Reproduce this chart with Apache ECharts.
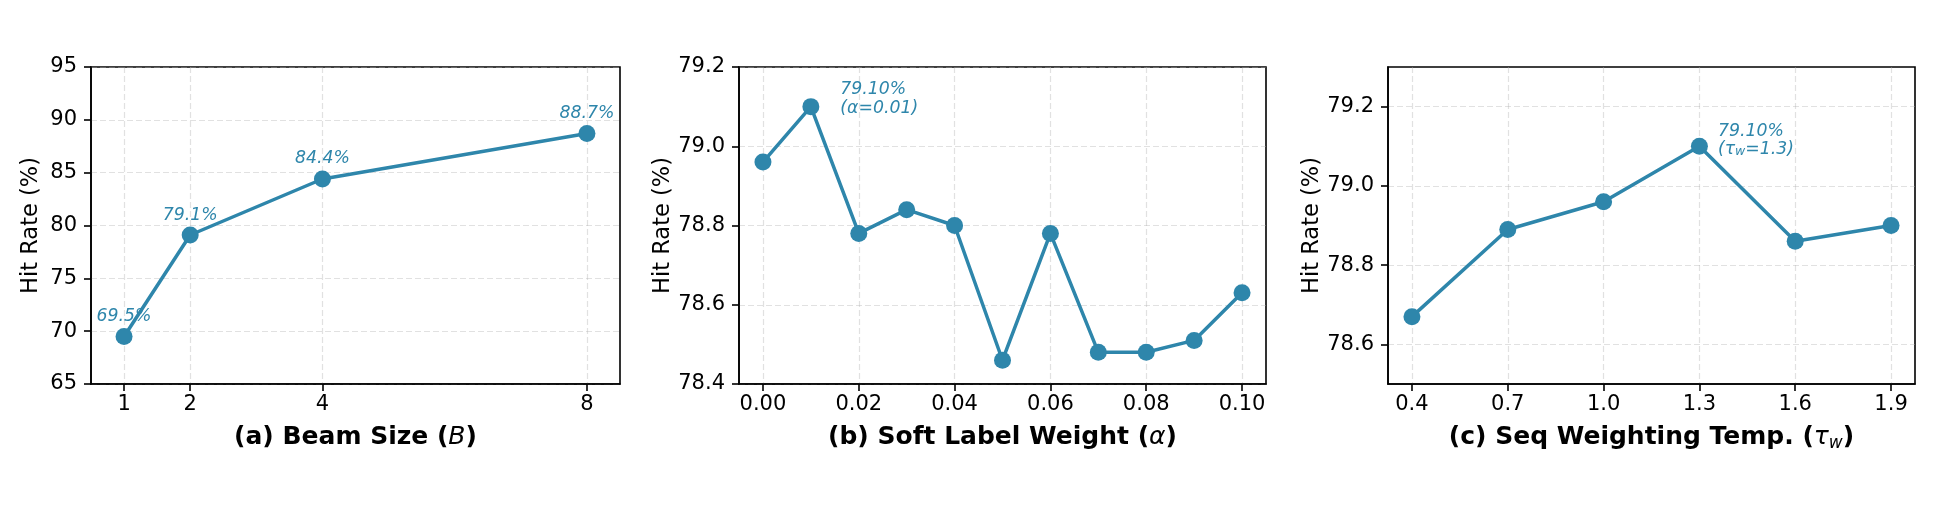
<!DOCTYPE html>
<html>
<head>
<meta charset="utf-8">
<script src="https://cdn.jsdelivr.net/npm/echarts@6/dist/echarts.min.js"></script>
<style>
  html, body { margin: 0; padding: 0; background: #fff; }
  #chart { width: 1936px; height: 528px; }
</style>
</head>
<body>
<div id="chart"></div>
<script>
(function() {
  var blue = '#2e86ab';
  var font = 'DejaVu Sans';

  // (a) beam size
  var beamSizes = [1, 2, 4, 8];
  var beamHit = [69.5, 79.1, 84.4, 88.7];
  var beamTicks = [1, 2, 4, 8];
  var beamYTicks = [65, 70, 75, 80, 85, 90, 95];

  // (b) soft label weight
  var alphas = [0.00, 0.01, 0.02, 0.03, 0.04, 0.05, 0.06, 0.07, 0.08, 0.09, 0.10];
  var alphaHit = [78.96, 79.10, 78.78, 78.84, 78.80, 78.46, 78.78, 78.48, 78.48, 78.51, 78.63];
  var alphaTicks = [0.00, 0.02, 0.04, 0.06, 0.08, 0.10];
  var alphaYTicks = [78.4, 78.6, 78.8, 79.0, 79.2];

  // (c) seq weighting temperature
  var temps = [0.4, 0.7, 1.0, 1.3, 1.6, 1.9];
  var tempHit = [78.67, 78.89, 78.96, 79.10, 78.86, 78.90];
  var tempTicks = [0.4, 0.7, 1.0, 1.3, 1.6, 1.9];
  var tempYTicks = [78.6, 78.8, 79.0, 79.2];

  var chart = echarts.init(document.getElementById('chart'), null, { renderer: 'canvas' });

  var grids = [
    { left: 91, top: 67, width: 529, height: 317 },
    { left: 739, top: 67, width: 527, height: 317 },
    { left: 1388, top: 67, width: 527, height: 317 }
  ];
  grids.forEach(function(g) {
    g.show = true; g.borderColor = '#000'; g.borderWidth = 1.6;
    g.backgroundColor = 'transparent';
  });

  var splitStyle = { show: true, lineStyle: { color: 'rgba(176,176,176,0.38)', width: 1.2, type: [6, 3] } };

  function xAxis(idx, min, max, ticks, digits, name, gap) {
    return {
      type: 'value', gridIndex: idx, min: min, max: max,
      axisLine: { show: true, onZero: false, lineStyle: { color: '#000', width: 1.6 } },
      axisTick: { show: true, length: 7, lineStyle: { color: '#000', width: 1.6 }, customValues: ticks },
      axisLabel: {
        color: '#000', fontFamily: font, fontSize: 21, margin: 10, customValues: ticks,
        formatter: function(v) { return digits === null ? String(v) : v.toFixed(digits); }
      },
      splitLine: splitStyle,
      name: name, nameLocation: 'middle', nameGap: gap,
      nameTextStyle: {
        color: '#000', fontFamily: font, fontSize: 25, fontWeight: 'bold',
        rich: {
          i: { fontFamily: font, fontSize: 25, fontStyle: 'italic', fontWeight: 'normal', color: '#000', lineHeight: 30 },
          sub: { fontFamily: font, fontSize: 17, fontStyle: 'italic', fontWeight: 'normal', color: '#000', lineHeight: 16, verticalAlign: 'bottom' }
        }
      }
    };
  }

  function yAxis(idx, min, max, ticks, digits, gap) {
    return {
      type: 'value', gridIndex: idx, min: min, max: max,
      axisLine: { show: true, onZero: false, lineStyle: { color: '#000', width: 1.6 } },
      axisTick: { show: true, length: 7, lineStyle: { color: '#000', width: 1.6 }, customValues: ticks },
      axisLabel: {
        color: '#000', fontFamily: font, fontSize: 21, margin: 14, customValues: ticks,
        formatter: function(v) { return v.toFixed(digits); }
      },
      splitLine: splitStyle,
      name: 'Hit Rate (%)', nameLocation: 'middle', nameGap: gap,
      nameTextStyle: { color: '#000', fontFamily: font, fontSize: 22.5 }
    };
  }

  function pairs(xs, ys) {
    return xs.map(function(x, i) { return [x, ys[i]]; });
  }

  var annoStyle = {
    color: blue, fontFamily: font, fontSize: 17.3, fontStyle: 'italic'
  };

  // (a): every point labelled
  var beamData = pairs(beamSizes, beamHit);

  // (b): only the best point labelled
  var bestA = alphaHit.indexOf(Math.max.apply(null, alphaHit));
  var alphaData = pairs(alphas, alphaHit).map(function(p, i) {
    if (i !== bestA) return p;
    return {
      value: p,
      label: {
        show: true, position: 'right', distance: 21, offset: [0, -8],
        align: 'left', lineHeight: 19,
        formatter: p[1].toFixed(2) + '%\n(α=' + p[0].toFixed(2) + ')'
      }
    };
  });

  // (c): only the best point labelled
  var bestT = tempHit.indexOf(Math.max.apply(null, tempHit));
  var tempData = pairs(temps, tempHit).map(function(p, i) {
    if (i !== bestT) return p;
    return {
      value: p,
      label: {
        show: true, position: 'right', distance: 10, offset: [0, -6],
        align: 'left', lineHeight: 18,
        formatter: '{t|' + p[1].toFixed(2) + '%}\n{t|(τ}{s|w}{t|=' + p[0].toFixed(1) + ')}',
        rich: {
          t: { color: blue, fontFamily: font, fontSize: 17.3, fontStyle: 'italic', lineHeight: 18 },
          s: { color: blue, fontFamily: font, fontSize: 12.5, fontStyle: 'italic', lineHeight: 18, verticalAlign: 'bottom', padding: [9, 0, 0, 0] }
        }
      }
    };
  });

  function lineSeries(idx, data, label) {
    return {
      type: 'line', xAxisIndex: idx, yAxisIndex: idx, data: data,
      symbol: 'circle', symbolSize: 17, showSymbol: true,
      itemStyle: { color: blue },
      lineStyle: { color: blue, width: 3.5 },
      label: Object.assign({}, annoStyle, label || { show: false }),
      emphasis: { disabled: true },
      z: 3
    };
  }

  chart.setOption({
    animation: false,
    backgroundColor: '#fff',
    grid: grids,
    xAxis: [
      xAxis(0, 0.5, 8.5, beamTicks, null, '(a) Beam Size ({i|B})', 38),
      xAxis(1, -0.005, 0.105, alphaTicks, 2, '(b) Soft Label Weight ({i|α})', 38),
      xAxis(2, 0.325, 1.975, tempTicks, 1, '(c) Seq Weighting Temp. ({i|τ}{sub|w})', 38)
    ],
    yAxis: [
      yAxis(0, 65, 95, beamYTicks, 0, 48),
      yAxis(1, 78.4, 79.2, alphaYTicks, 1, 64),
      yAxis(2, 78.5, 79.3, tempYTicks, 1, 64)
    ],
    series: [
      lineSeries(0, beamData, {
        show: true, position: 'top', distance: 3,
        formatter: function(p) { return p.value[1].toFixed(1) + '%'; }
      }),
      lineSeries(1, alphaData),
      lineSeries(2, tempData)
    ]
  });
})();
</script>
</body>
</html>
